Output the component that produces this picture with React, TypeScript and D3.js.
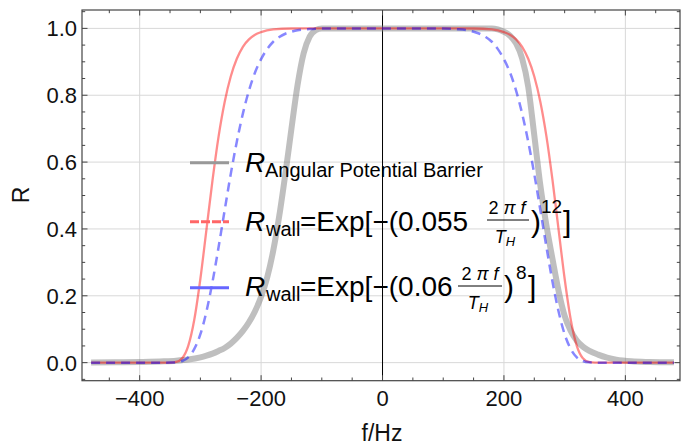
import React from 'react';
import * as d3 from 'd3';

const W = 682, H = 445;
const plotLeft = 82, plotRight = 680, plotTop = 10, plotBottom = 380.7;
const xDomain: [number, number] = [-495, 490];
const yDomain: [number, number] = [-0.054, 1.055];

const xMajor = [-400, -200, 0, 200, 400];
const xLabels = ['−400', '−200', '0', '200', '400'];
const xMinor = [-450, -350, -300, -250, -150, -100, -50, 50, 100, 150, 250, 300, 350, 450];
const yMajor = [0, 0.2, 0.4, 0.6, 0.8, 1.0];
const yLabels = ['0.0', '0.2', '0.4', '0.6', '0.8', '1.0'];
const yMinor = [-0.05, 0.05, 0.1, 0.15, 0.25, 0.3, 0.35, 0.45, 0.5, 0.55, 0.65, 0.7, 0.75, 0.85, 0.9, 0.95, 1.05];

// Angular potential barrier (gray)
const barrierCurve: [number, number][] = [
  [-480, 0.0005], [-440, 0.001], [-400, 0.002], [-360, 0.004], [-340, 0.006], [-320, 0.0095],
  [-300, 0.016], [-290, 0.021], [-280, 0.027], [-270, 0.035], [-260, 0.044], [-250, 0.057],
  [-240, 0.074], [-230, 0.095], [-220, 0.121], [-210, 0.154], [-200, 0.197], [-190, 0.255],
  [-180, 0.335], [-170, 0.44], [-160, 0.565], [-150, 0.7], [-140, 0.83], [-130, 0.925],
  [-120, 0.975], [-110, 0.995], [-100, 1], [0, 1], [180, 1], [190, 0.997], [200, 0.99],
  [210, 0.978], [220, 0.955], [230, 0.91], [240, 0.825], [250, 0.68], [260, 0.53], [270, 0.41],
  [280, 0.31], [290, 0.215], [300, 0.14], [310, 0.095], [320, 0.066], [330, 0.048],
  [340, 0.036], [355, 0.024], [370, 0.015], [385, 0.009], [410, 0.004], [440, 0.002], [480, 0.001],
];

// R_wall, exponent 12 (red)
const wall12Curve: [number, number][] = [
  [-480, 0], [-360, 0], [-350, 0.0002], [-340, 0.002], [-330, 0.013], [-320, 0.05], [-310, 0.129],
  [-300, 0.251], [-290, 0.398], [-280, 0.546], [-270, 0.677], [-260, 0.78], [-250, 0.856],
  [-240, 0.909], [-230, 0.945], [-220, 0.967], [-210, 0.981], [-200, 0.989], [-180, 0.997],
  [-150, 0.9997], [-100, 1], [0, 1], [100, 1], [150, 0.9997], [180, 0.997], [200, 0.989],
  [210, 0.981], [220, 0.967], [230, 0.945], [240, 0.909], [250, 0.856], [260, 0.78], [270, 0.677],
  [280, 0.546], [290, 0.398], [300, 0.251], [310, 0.129], [320, 0.05], [330, 0.013], [340, 0.002],
  [350, 0.0002], [360, 0], [480, 0],
];

// R_wall, exponent 8 (blue dashed)
const wall8Curve: [number, number][] = [
  [-480, 0], [-360, 0], [-350, 0.0002], [-340, 0.001], [-330, 0.005], [-320, 0.016], [-310, 0.041],
  [-300, 0.085], [-290, 0.153], [-280, 0.242], [-270, 0.346], [-260, 0.456], [-250, 0.564],
  [-240, 0.661], [-230, 0.745], [-220, 0.814], [-210, 0.868], [-200, 0.908], [-190, 0.938],
  [-180, 0.96], [-170, 0.974], [-160, 0.984], [-150, 0.99], [-140, 0.9945], [-120, 0.998],
  [-100, 0.9996], [0, 1], [100, 0.9996], [120, 0.998], [140, 0.9945], [150, 0.99], [160, 0.984],
  [170, 0.974], [180, 0.96], [190, 0.938], [200, 0.908], [210, 0.868], [220, 0.814], [230, 0.745],
  [240, 0.661], [250, 0.564], [260, 0.456], [270, 0.346], [280, 0.242], [290, 0.153], [300, 0.085],
  [310, 0.041], [320, 0.016], [330, 0.005], [340, 0.001], [350, 0.0002], [360, 0], [480, 0],
];

const sans = "'Liberation Sans', Arial, Helvetica, sans-serif";
const frameColor = '#444';
const gridColor = '#d8d8d8';

export default function App() {
  const x = d3.scaleLinear().domain(xDomain).range([plotLeft, plotRight]);
  const y = d3.scaleLinear().domain(yDomain).range([plotBottom, plotTop]);
  const line = d3.line<[number, number]>().x(d => x(d[0])).y(d => y(d[1])).curve(d3.curveMonotoneX);

  const majT = 5.5, minT = 3.2;

  return (
    <svg width={W} height={H} style={{ position: 'absolute', left: 0, top: 0, background: '#fff' }} fontFamily={sans}>
      {/* grid */}
      {xMajor.filter(v => v !== 0).map(v => (
        <line key={'gx' + v} x1={x(v)} x2={x(v)} y1={plotTop} y2={plotBottom} stroke={gridColor} strokeWidth={1} />
      ))}
      {yMajor.map(v => (
        <line key={'gy' + v} x1={plotLeft} x2={plotRight} y1={y(v)} y2={y(v)} stroke={gridColor} strokeWidth={1} />
      ))}
      {/* vertical axis at 0 */}
      <line x1={x(0)} x2={x(0)} y1={plotTop} y2={plotBottom} stroke="#000" strokeWidth={1} />

      {/* curves */}
      <path d={line(barrierCurve) || ''} fill="none" stroke="rgba(128,128,128,0.5)" strokeWidth={6} strokeLinejoin="round" />
      <path d={line(wall12Curve) || ''} fill="none" stroke="rgba(255,0,0,0.45)" strokeWidth={2.3} />
      <path d={line(wall8Curve) || ''} fill="none" stroke="rgba(0,0,255,0.47)" strokeWidth={2.5} strokeDasharray="9,6" />

      {/* frame */}
      <rect x={plotLeft} y={plotTop} width={plotRight - plotLeft} height={plotBottom - plotTop} fill="none" stroke={frameColor} strokeWidth={1.2} />
      {xMajor.map(v => (
        <g key={'xt' + v}>
          <line x1={x(v)} x2={x(v)} y1={plotBottom} y2={plotBottom - majT} stroke={frameColor} />
          <line x1={x(v)} x2={x(v)} y1={plotTop} y2={plotTop + majT} stroke={frameColor} />
        </g>
      ))}
      {xMinor.map(v => (
        <g key={'xm' + v}>
          <line x1={x(v)} x2={x(v)} y1={plotBottom} y2={plotBottom - minT} stroke={frameColor} />
          <line x1={x(v)} x2={x(v)} y1={plotTop} y2={plotTop + minT} stroke={frameColor} />
        </g>
      ))}
      {yMajor.map(v => (
        <g key={'yt' + v}>
          <line x1={plotLeft} x2={plotLeft + majT} y1={y(v)} y2={y(v)} stroke={frameColor} />
          <line x1={plotRight} x2={plotRight - majT} y1={y(v)} y2={y(v)} stroke={frameColor} />
        </g>
      ))}
      {yMinor.map(v => (
        <g key={'ym' + v}>
          <line x1={plotLeft} x2={plotLeft + minT} y1={y(v)} y2={y(v)} stroke={frameColor} />
          <line x1={plotRight} x2={plotRight - minT} y1={y(v)} y2={y(v)} stroke={frameColor} />
        </g>
      ))}

      {/* tick labels */}
      {xMajor.map((v, i) => (
        <text key={'xl' + v} x={x(v)} y={406} textAnchor="middle" fontSize={22} fill="#111">{xLabels[i]}</text>
      ))}
      {yMajor.map((v, i) => (
        <text key={'yl' + v} x={77} y={y(v) + 8} textAnchor="end" fontSize={22} fill="#111">{yLabels[i]}</text>
      ))}

      {/* axis titles */}
      <text x={382} y={441} textAnchor="middle" fontSize={23} fill="#111">f/Hz</text>
      <text transform={`translate(29,195) rotate(-90)`} textAnchor="middle" fontSize={23} fill="#111">R</text>

      {/* legend swatches */}
      <line x1={190} x2={229} y1={162.7} y2={162.7} stroke="#999" strokeWidth={3} />
      <line x1={190} x2={229} y1={221.7} y2={221.7} stroke="#ff6666" strokeWidth={3} strokeDasharray="9,2" />
      <line x1={190} x2={229} y1={287.7} y2={287.7} stroke="#6666ff" strokeWidth={3} />

      {/* legend row 1 */}
      <text x={245} y={172} fontSize={28} fill="#000"><tspan fontStyle="italic">R</tspan></text>
      <text x={265} y={177} fontSize={20} fill="#000">Angular Potential Barrier</text>

      {/* legend row 2 */}
      <text x={245} y={231} fontSize={28} fill="#000"><tspan fontStyle="italic">R</tspan></text>
      <text x={266} y={236} fontSize={20} fill="#000">wall</text>
      <text x={300} y={231} fontSize={28} fill="#000">=Exp[−(0.055</text>
      <text x={507} y={214} fontSize={18} textAnchor="middle" fill="#000">2<tspan fontStyle="italic"> π f</tspan></text>
      <line x1={487} x2={529} y1={220} y2={220} stroke="#000" strokeWidth={1} />
      <text x={505} y={243} fontSize={18} textAnchor="middle" fill="#000" fontStyle="italic">T<tspan fontSize={13} dy={3}>H</tspan></text>
      <text x={531} y={232} fontSize={30} fill="#000">)</text>
      <text x={541} y={213} fontSize={19} fill="#000">12</text>
      <text x={563} y={232} fontSize={30} fill="#000">]</text>

      {/* legend row 3 */}
      <text x={245} y={296} fontSize={28} fill="#000"><tspan fontStyle="italic">R</tspan></text>
      <text x={266} y={301} fontSize={20} fill="#000">wall</text>
      <text x={300} y={296} fontSize={28} fill="#000">=Exp[−(0.06</text>
      <text x={480} y={280} fontSize={18} textAnchor="middle" fill="#000">2<tspan fontStyle="italic"> π f</tspan></text>
      <line x1={458} x2={502} y1={286} y2={286} stroke="#000" strokeWidth={1} />
      <text x={478} y={309} fontSize={18} textAnchor="middle" fill="#000" fontStyle="italic">T<tspan fontSize={13} dy={3}>H</tspan></text>
      <text x={504} y={297} fontSize={30} fill="#000">)</text>
      <text x={516} y={279} fontSize={19} fill="#000">8</text>
      <text x={528} y={297} fontSize={30} fill="#000">]</text>
    </svg>
  );
}
